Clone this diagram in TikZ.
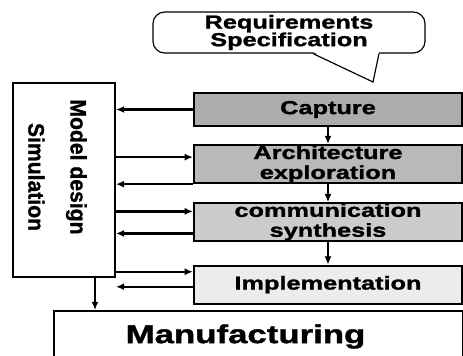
\documentclass[tikz,border=0pt]{standalone}
\usepackage{fontspec}
\setmainfont{Liberation Sans}
\newfontfamily\widefont[FakeStretch=1.35,FakeBold=1.5]{Liberation Sans}
\newfontfamily\tallfont[FakeStretch=0.95,FakeBold=1.2]{Liberation Sans}
\usetikzlibrary{arrows.meta,positioning,calc}
\tikzset{
  stage/.style={
    draw=black, line width=1.8pt, minimum width=8.04cm, minimum height=0.99cm,
    align=center, inner sep=0pt, font=\widefont\bfseries\fontsize{16}{17}\selectfont
  },
  plainbox/.style={draw=black, line width=1.6pt, align=center, inner sep=0pt},
  arr/.style={-{Latex[length=7pt,width=6pt]}, line width=2pt},
}
\begin{document}
\begin{tikzpicture}[x=0.03cm, y=-0.03cm, node distance=0.5cm]
  \clip (0,0) rectangle (463,356);

  % callout
  \node[plainbox, rounded corners=10pt, line width=1pt, minimum width=8.16cm,
        minimum height=1.23cm, font=\widefont\bfseries\fontsize{16}{15}\selectfont]
       (req) at (289,32.5) {Requirements\\Specification};
  \coordinate (tip) at (373,82);
  \fill[white] ([yshift=1.5pt]req.south -| 313,0) -- (tip) -- ([yshift=1.5pt]req.south -| 379,0) -- cycle;
  \draw[line width=1pt] (req.south -| 313,0) -- (tip) -- (req.south -| 379,0);

  % design stages
  \node[stage, fill=gray!65] (cap) at (328,109.5) {Capture};
  \node[stage, fill=gray!55, minimum height=1.14cm, below=0.51cm of cap] (arch)
       {Architecture\\exploration};
  \node[stage, fill=gray!40, below=0.54cm of arch] (comm) {communication\\synthesis};
  \node[stage, fill=gray!15, minimum height=1.14cm, below=0.69cm of comm] (impl)
       {Implementation};

  \node[plainbox, minimum width=3.06cm, minimum height=5.82cm] (model) at (64,180) {};
  \node[rotate=-90, align=center, font=\tallfont\bfseries\fontsize{19}{36}\selectfont]
       (modeltxt) at (57.5,167) {Model design\\\hspace*{0.6cm}Simulation};
  \node[plainbox, minimum width=12.27cm, minimum height=1.53cm,
        font=\widefont\bfseries\fontsize{22}{22}\selectfont] (manuf) at (258.5,336.5)
       {\raisebox{0.05cm}{Manufacturing\hspace*{0.78cm}}};

  % flow down
  \draw[arr] (cap) -- (arch);
  \draw[arr] (arch) -- (comm);
  \draw[arr] (comm) -- (impl);
  \draw[arr] ([xshift=0.93cm]model.south) -- ([xshift=0.93cm]model.south |- manuf.north);

  % to and from simulation
  \coordinate (a1) at ([yshift=0.21cm]arch.west);
  \coordinate (c1) at ([yshift=0.315cm]comm.west);
  \coordinate (c2) at ([yshift=-0.345cm]comm.west);
  \coordinate (i1) at ([yshift=0.39cm]impl.west);
  \coordinate (i2) at ([yshift=-0.06cm]impl.west);
  \draw[arr] (cap.west) -- (cap.west -| model.east);
  \draw[arr] (a1 -| model.east) -- (a1);
  \draw[arr] (arch.south west) -- (arch.south west -| model.east);
  \draw[arr] (c1 -| model.east) -- (c1);
  \draw[arr] (c2) -- (c2 -| model.east);
  \draw[arr] (i1 -| model.east) -- (i1);
  \draw[arr] (i2) -- (i2 -| model.east);
\end{tikzpicture}
\end{document}
